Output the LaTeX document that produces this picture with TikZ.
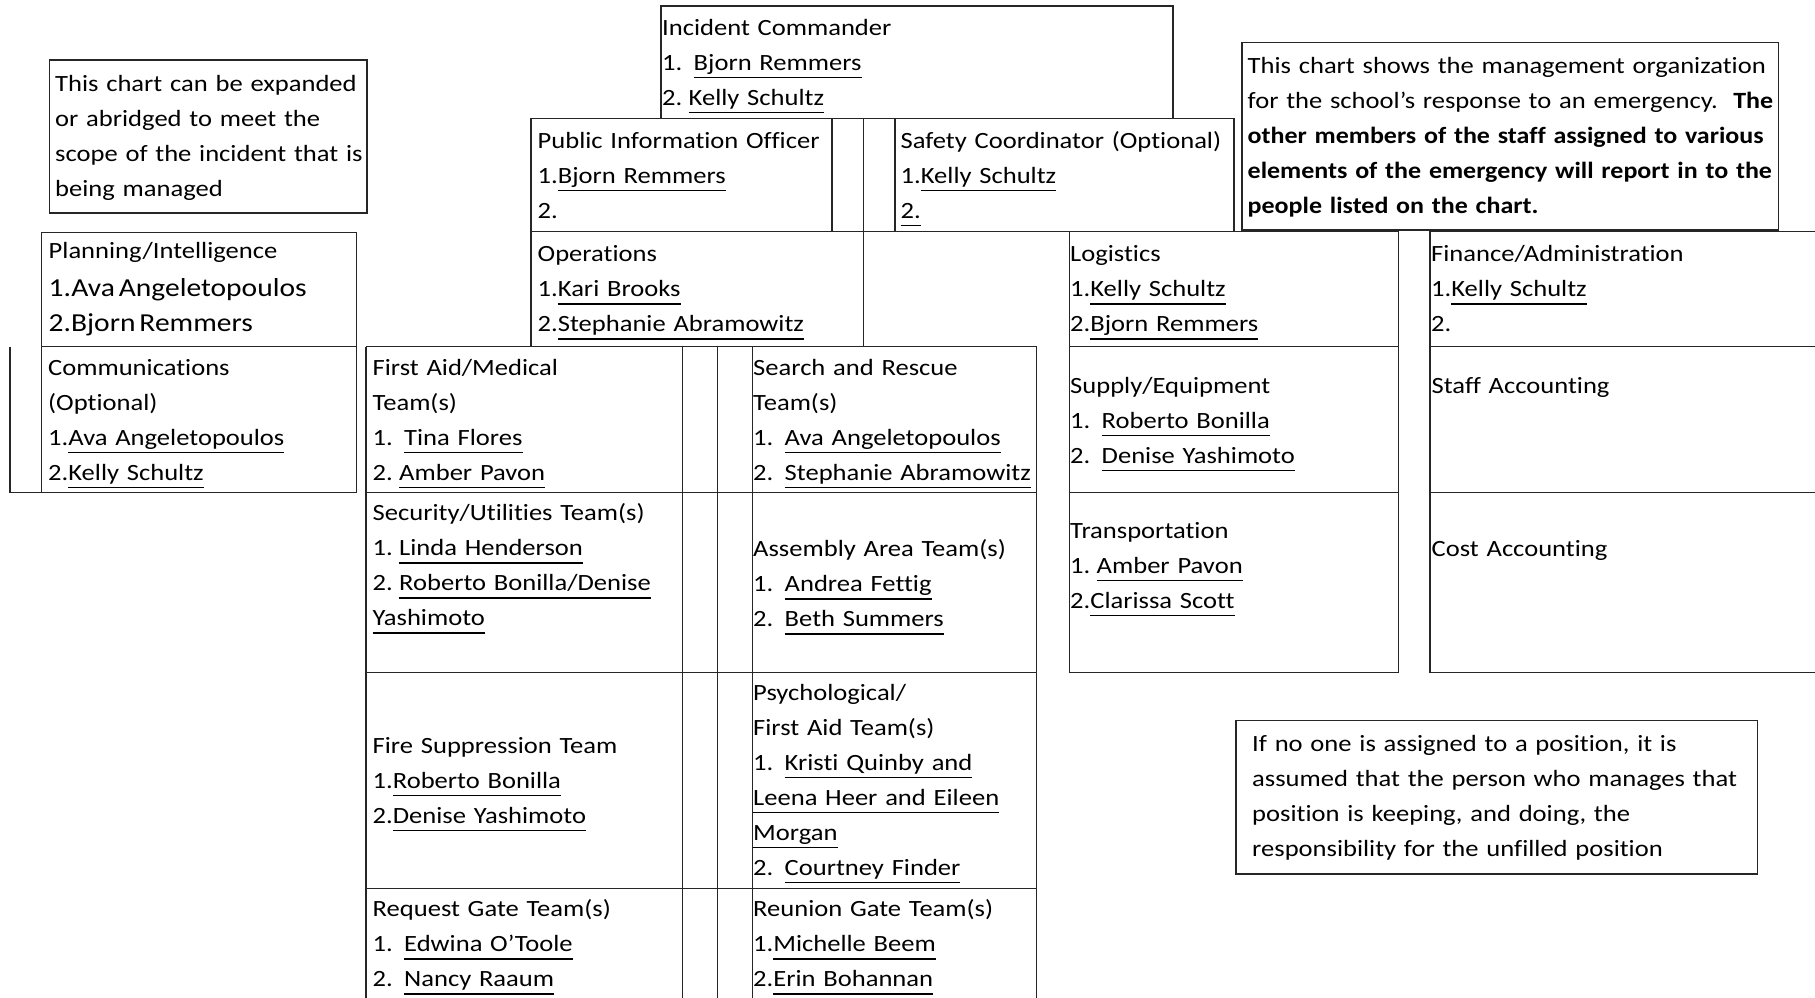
\documentclass[tikz,border=0pt]{standalone}
\usepackage{fontspec}
\setmainfont{Carlito}[Ligatures=NoCommon, FakeStretch=1.14, BoldFeatures={FakeStretch=1.115}]
\newlength{\unamewd}
\newcommand{\uname}[1]{\leavevmode\settowidth{\unamewd}{#1}\rlap{\rule[-8pt]{\unamewd}{1.5pt}}#1}
\newcommand{\chartfont}{\fontsize{23.3}{35}\selectfont\frenchspacing\spaceskip=3.5pt plus 1pt minus 1pt\relax}
\newcommand{\chartlarge}{\fontsize{25.9}{37.5}\selectfont\spaceskip=3.9pt plus 1pt minus 1pt\relax}
\newcommand{\numtab}[1]{\makebox[31.5pt][l]{#1}}
\newcommand{\numsp}[1]{\makebox[26.5pt][l]{#1}}
\begin{document}
\begin{tikzpicture}[x=1pt,y=-1pt,
    tabline/.style={line width=1.4pt, draw=black!85},
    entry/.style={anchor=base west, inner sep=0pt, text width=700pt, align=left, font=\chartfont}]
    \useasboundingbox (0,0) rectangle (1815,997);
    % notes
    \draw[tabline] (49.5,60) rectangle (367,213);
    \draw[tabline] (1242,42.3) rectangle (1778.6,230);
    \draw[tabline] (1236,720.7) rectangle (1757.5,874);
    % command staff
    \draw[tabline] (661,6) rectangle (1173,118.3);
    \draw[tabline] (531,118.3) rectangle (1234,231.7);
    \draw[tabline] (832,118.3) -- (832,231.7);
    \draw[tabline] (863.5,118.3) -- (863.5,231.7);
    \draw[tabline] (895,118.3) -- (895,231.7);
    % planning
    \draw[tabline] (41.5,232.3) rectangle (356.4,346.7);
    \draw[tabline] (41.5,346.7) rectangle (356.4,492.3);
    \draw[tabline] (10,346.7) -- (10,492.3) -- (41.5,492.3);
    % operations
    \draw[tabline] (531,231.7) rectangle (863.5,346.7);
    \foreach \x in {366,682.5,717.5,752.5,1036.7}
        \draw[tabline] (\x,346.7) -- (\x,1000);
    \foreach \y in {346.7,492.3,672.7,888.3}
        \draw[tabline] (366,\y) -- (1036.7,\y);
    % logistics
    \draw[tabline] (1069.5,231.7) rectangle (1398.5,672.7);
    \draw[tabline] (1069.5,346.7) -- (1398.5,346.7);
    \draw[tabline] (1069.5,492.5) -- (1398.5,492.5);
    % finance
    \draw[tabline] (1820,231.7) -- (1430,231.7) -- (1430,672.7) -- (1820,672.7);
    \draw[tabline] (1430,346.7) -- (1820,346.7);
    \draw[tabline] (1430,492.5) -- (1820,492.5);

    \node[entry] (noteScope) at (55,91.7) {This chart can be expanded\\or abridged to meet the\\scope of the incident that is\\being managed};
    \node[entry] (noteOrg) at (1247.5,73.3) {This chart shows the management organization\\for the school’s response to an emergency.\ \ \textbf{The}\\\textbf{other members of the staff assigned to various}\\\textbf{elements of the emergency will report in to the}\\\textbf{people listed on the chart.}};
    \node[entry] (noteVacant) at (1252,751.7) {If no one is assigned to a position, it is\\assumed that the person who manages that\\position is keeping, and doing, the\\responsibility for the unfilled position};

    \node[entry] (commander) at (662,35) {Incident Commander\\\numtab{1.}\uname{Bjorn Remmers}\\\numsp{2.}\uname{Kelly Schultz}};
    \node[entry] (pio) at (537.5,148.3) {Public Information Officer\\1.\uname{Bjorn Remmers}\\2.};
    \node[entry] (safety) at (900.5,148.3) {Safety Coordinator (Optional)\\1.\uname{Kelly Schultz}\\\uname{2.}};

    \node[entry] (planning) at (48.5,258.5) {Planning/Intelligence\\\chartlarge 1.Ava Angeletopoulos\\2.Bjorn Remmers};
    \node[entry] (comms) at (48,375) {Communications\\(Optional)\\1.\uname{Ava Angeletopoulos}\\2.\uname{Kelly Schultz}};

    \node[entry] (operations) at (537.5,261.7) {Operations\\1.\uname{Kari Brooks}\\2.\uname{Stephanie Abramowitz}};
    \node[entry] (firstAid) at (372.5,375) {First Aid/Medical\\Team(s)\\\numtab{1.}\uname{Tina Flores}\\\numsp{2.}\uname{Amber Pavon}};
    \node[entry] (search) at (753,375) {Search and Rescue\\Team(s)\\\numtab{1.}\uname{Ava Angeletopoulos}\\\numtab{2.}\uname{Stephanie Abramowitz}};
    \node[entry] (security) at (372.5,520.7) {Security/Utilities Team(s)\\\numsp{1.}\uname{Linda Henderson}\\\numsp{2.}\uname{Roberto Bonilla/Denise}\\\uname{Yashimoto}};
    \node[entry] (assembly) at (753,556.7) {Assembly Area Team(s)\\\numtab{1.}\uname{Andrea Fettig}\\\numtab{2.}\uname{Beth Summers}};
    \node[entry] (fire) at (372.5,753.3) {Fire Suppression Team\\1.\uname{Roberto Bonilla}\\2.\uname{Denise Yashimoto}};
    \node[entry] (psych) at (753,700) {Psychological/\\First Aid Team(s)\\\numtab{1.}\uname{Kristi Quinby and}\\\uname{Leena Heer and Eileen}\\\uname{Morgan}\\\numtab{2.}\uname{Courtney Finder}};
    \node[entry] (request) at (372.5,916.7) {Request Gate Team(s)\\\numtab{1.}\uname{Edwina O'Toole}\\\numtab{2.}\uname{Nancy Raaum}};
    \node[entry] (reunion) at (753,916.7) {Reunion Gate Team(s)\\1.\uname{Michelle Beem}\\2.\uname{Erin Bohannan}};

    \node[entry] (logistics) at (1070,261.7) {Logistics\\1.\uname{Kelly Schultz}\\2.\uname{Bjorn Remmers}};
    \node[entry] (supply) at (1070,393.3) {Supply/Equipment\\\numtab{1.}\uname{Roberto Bonilla}\\\numtab{2.}\uname{Denise Yashimoto}};
    \node[entry] (transport) at (1070,538.3) {Transportation\\\numsp{1.}\uname{Amber Pavon}\\2.\uname{Clarissa Scott}};

    \node[entry] (finance) at (1431,261.7) {Finance/Administration\\1.\uname{Kelly Schultz}\\2.};
    \node[entry] (staffAcc) at (1431.5,393.3) {Staff Accounting};
    \node[entry] (costAcc) at (1431.5,556.7) {Cost Accounting};
\end{tikzpicture}
\end{document}
